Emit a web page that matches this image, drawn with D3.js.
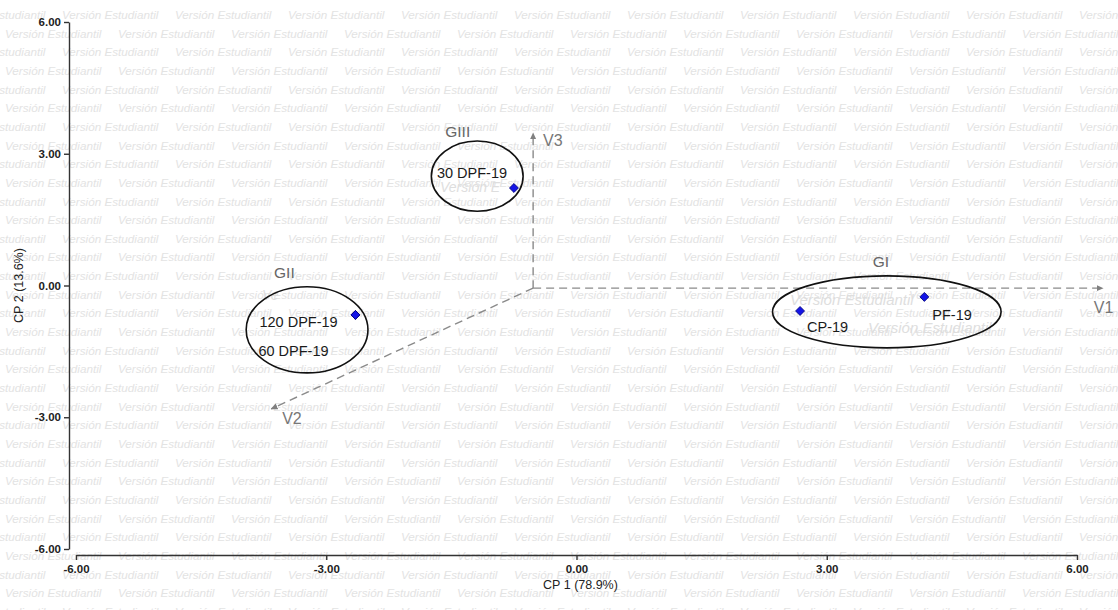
<!DOCTYPE html>
<html>
<head>
<meta charset="utf-8">
<script src="https://cdn.jsdelivr.net/npm/d3@7"></script>
<style>
  body { margin: 0; background: #fff; }
  svg { display: block; font-family: "Liberation Sans", Arial, sans-serif; }
</style>
</head>
<body>
<svg id="chart" width="1118" height="610"></svg>
<script>
// --- data ---
var xTicks = [-6, -3, 0, 3, 6];
var yTicks = [-6, -3, 0, 3, 6];
var xTitle = 'CP 1 (78.9%)';
var yTitle = 'CP 2 (13.6%)';

var pointNames = ['30 DPF-19', '120 DPF-19', '60 DPF-19', 'CP-19', 'PF-19'];
var pointX = [-0.75, -2.65, -2.65, 2.68, 4.17];
var pointY = [2.22, -0.67, -0.67, -0.58, -0.26];

var groupNames = ['GIII', 'GII', 'GI'];
var groupCx = [-1.19, -3.23, 3.72];
var groupCy = [2.49, -1.01, -0.60];
var groupRx = [0.55, 0.73, 1.37];
var groupRy = [0.80, 0.98, 0.82];

var vectorNames = ['V1', 'V2', 'V3'];
var vectorOrigin = [-0.52, -0.06];
var vectorX = [6.31, -3.66, -0.52];
var vectorY = [-0.06, -2.81, 3.47];

// label offsets in pixels (layout only)
var pointLabelOffset = [[-77, -10], [-96, 12], [-97, 41], [7, 21], [8, 23]];
var groupLabelOffset = [[-32, -4], [-33, -9], [-14, -9]];
var vectorLabelOffset = [[-9, 25], [11, 15], [10, 13]];

var svg = d3.select('#chart');
var W = 1118, H = 610;

var x = d3.scaleLinear().domain([-6, 6]).range([76, 1077]);
var y = d3.scaleLinear().domain([-6, 6]).range([549, 22]);

// watermark of the student licence, one text per copy, clipped to the page
svg.append('defs').append('clipPath').attr('id', 'page')
    .append('rect').attr('width', W).attr('height', H);
var wm = svg.append('g')
    .attr('clip-path', 'url(#page)')
    .attr('fill', '#e3e3e3')
    .attr('font-style', 'italic')
    .attr('font-size', '11.7px');
var rowStep = 18.65, colStep = 113;
for (var r = 0; r * rowStep < H + 10; r++) {
    var off = (r % 2 === 0) ? 62 : 5;
    for (var c = -1; c * colStep + off < W; c++) {
        wm.append('text')
            .attr('x', off + c * colStep)
            .attr('y', 19 + r * rowStep)
            .text('Versión Estudiantil');
    }
}
// a few larger pasted watermark fragments
var bigWm = [
    {t: 'Versión Estudiantil', px: 790, py: 305, s: 15},
    {t: 'Versión Estudiantil', px: 868, py: 333, s: 15},
    {t: 'Versión E', px: 440, py: 192, s: 14},
    {t: 'Ve', px: 262, py: 300, s: 14}
];
svg.append('g').selectAll('text').data(bigWm).join('text')
    .attr('x', function(d) { return d.px; })
    .attr('y', function(d) { return d.py; })
    .attr('font-size', function(d) { return d.s + 'px'; })
    .attr('font-style', 'italic')
    .attr('fill', '#dedede')
    .text(function(d) { return d.t; });

// axes
var fmt = function(d) { return d.toFixed(2); };
var xAxis = svg.append('g')
    .attr('transform', 'translate(0,555)')
    .call(d3.axisBottom(x).tickValues(xTicks).tickFormat(fmt).tickSize(5).tickSizeOuter(0));
var yAxis = svg.append('g')
    .attr('transform', 'translate(69,0)')
    .call(d3.axisLeft(y).tickValues(yTicks).tickFormat(fmt).tickSize(5).tickSizeOuter(0));
[xAxis, yAxis].forEach(function(a) {
    a.selectAll('path, line').attr('stroke', '#333').attr('stroke-width', 1.4);
    a.selectAll('text')
        .attr('fill', '#222')
        .attr('font-size', '11.5px')
        .attr('font-weight', 600)
        .attr('font-family', '"Liberation Sans", Arial, sans-serif');
});
xAxis.selectAll('text').attr('dy', '0.9em');

svg.append('text')
    .attr('x', x(0) + 4)
    .attr('y', 589)
    .attr('text-anchor', 'middle')
    .attr('font-size', '12.5px')
    .attr('fill', '#222')
    .text(xTitle);
svg.append('text')
    .attr('transform', 'translate(23,' + y(0) + ') rotate(-90)')
    .attr('text-anchor', 'middle')
    .attr('font-size', '12.5px')
    .attr('fill', '#222')
    .text(yTitle);

// vectors
svg.select('defs').append('marker')
    .attr('id', 'arrow')
    .attr('viewBox', '0 -5 10 10')
    .attr('refX', 9)
    .attr('refY', 0)
    .attr('markerWidth', 7)
    .attr('markerHeight', 7)
    .attr('markerUnits', 'userSpaceOnUse')
    .attr('orient', 'auto')
    .append('path')
    .attr('d', 'M0,-4.5L10,0L0,4.5Z')
    .attr('fill', '#808080');

var vectors = vectorNames.map(function(n, i) {
    return {name: n, x: vectorX[i], y: vectorY[i], off: vectorLabelOffset[i]};
});
svg.append('g').selectAll('line').data(vectors).join('line')
    .attr('x1', x(vectorOrigin[0]))
    .attr('y1', y(vectorOrigin[1]))
    .attr('x2', function(d) { return x(d.x); })
    .attr('y2', function(d) { return y(d.y); })
    .attr('stroke', '#8a8a8a')
    .attr('stroke-width', 1.4)
    .attr('stroke-dasharray', '8,5')
    .attr('marker-end', 'url(#arrow)');
svg.append('g').selectAll('text').data(vectors).join('text')
    .attr('x', function(d) { return x(d.x) + d.off[0]; })
    .attr('y', function(d) { return y(d.y) + d.off[1]; })
    .attr('font-size', '16px')
    .attr('fill', '#777')
    .text(function(d) { return d.name; });

// group ellipses
var groups = groupNames.map(function(n, i) {
    return {name: n, cx: groupCx[i], cy: groupCy[i], rx: groupRx[i], ry: groupRy[i], off: groupLabelOffset[i]};
});
var xk = x(1) - x(0), yk = y(0) - y(1);
svg.append('g').selectAll('ellipse').data(groups).join('ellipse')
    .attr('cx', function(d) { return x(d.cx); })
    .attr('cy', function(d) { return y(d.cy); })
    .attr('rx', function(d) { return d.rx * xk; })
    .attr('ry', function(d) { return d.ry * yk; })
    .attr('fill', 'none')
    .attr('stroke', '#111')
    .attr('stroke-width', 1.6);
svg.append('g').selectAll('text').data(groups).join('text')
    .attr('x', function(d) { return x(d.cx) + d.off[0]; })
    .attr('y', function(d) { return y(d.cy + d.ry) + d.off[1]; })
    .attr('font-size', '15.5px')
    .attr('fill', '#666')
    .text(function(d) { return d.name; });

// points
var points = pointNames.map(function(n, i) {
    return {name: n, x: pointX[i], y: pointY[i], off: pointLabelOffset[i]};
});
svg.append('g').selectAll('path').data(points).join('path')
    .attr('d', d3.symbol(d3.symbolSquare, 40))
    .attr('transform', function(d) { return 'translate(' + x(d.x) + ',' + y(d.y) + ') rotate(45)'; })
    .attr('fill', '#1414e6')
    .attr('stroke', '#00007a')
    .attr('stroke-width', 0.8);
svg.append('g').selectAll('text').data(points).join('text')
    .attr('x', function(d) { return x(d.x) + d.off[0]; })
    .attr('y', function(d) { return y(d.y) + d.off[1]; })
    .attr('font-size', '14.5px')
    .attr('fill', '#1a1a1a')
    .text(function(d) { return d.name; });
</script>
</body>
</html>
